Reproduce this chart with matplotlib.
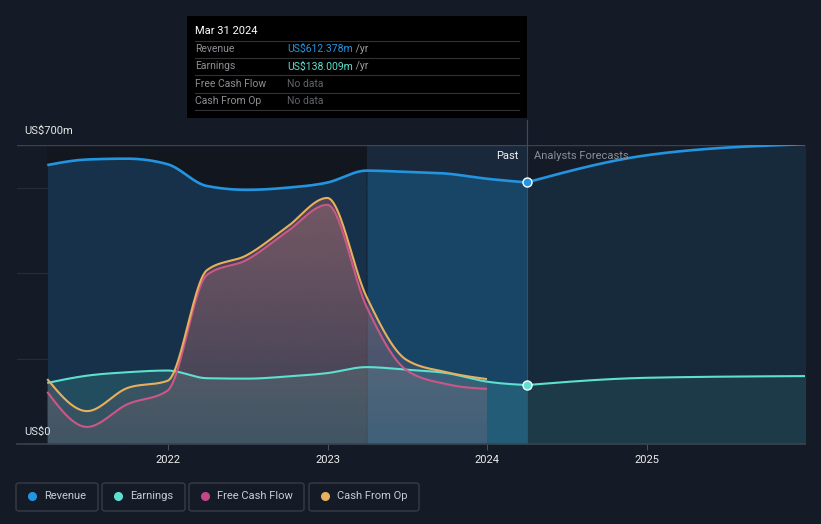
import numpy as np
import pandas as pd
import matplotlib
matplotlib.use("Agg")
import matplotlib.pyplot as plt
from matplotlib.patches import Rectangle, FancyBboxPatch
from matplotlib.lines import Line2D

plt.rcParams['font.family'] = ['Roboto', 'DejaVu Sans']

# ---------------- data ----------------
past_dates = ["2021-03-31", "2021-06-30", "2021-09-30", "2021-12-31", "2022-03-31", "2022-06-30",
              "2022-09-30", "2022-12-31", "2023-03-31", "2023-06-30", "2023-09-30", "2023-12-31",
              "2024-03-31"]
revenue_past = [653, 666, 668, 655, 604, 595, 600, 612, 640, 637, 633, 621, 612.378]
earnings_past = [143, 160, 168, 172, 154, 153, 158, 166, 180, 174, 166, 146, 138.009]

cash_dates = past_dates[:-1]
fcf = [122, 40, 93, 125, 396, 431, 497, 560, 321, 173, 140, 129]
cfo = [152, 77, 131, 148, 407, 442, 508, 576, 344, 197, 168, 152]

fc_dates = ["2024-03-31", "2024-12-31", "2025-12-31"]
revenue_fc = [612.378, 676, 702]
earnings_fc = [138.009, 155, 159]

band_start = "2023-03-31"
now_date = "2024-03-31"
xtick_labels = ["2022", "2023", "2024", "2025"]

C_REV = '#2394df'
C_EARN = '#5ee0cf'
C_FCF = '#cc5687'
C_CFO = '#e8b05c'
BG = '#151b26'

W, H = 821, 524


def dyear(s):
    t = pd.Timestamp(s)
    days = 366 if t.is_leap_year else 365
    return t.year + (t.dayofyear - 1) / days


def monotone(x, y, n=500):
    x = np.asarray(x, float); y = np.asarray(y, float)
    h = np.diff(x); d = np.diff(y) / h
    m = np.zeros_like(y)
    for i in range(1, len(x) - 1):
        s0, s1, h0, h1 = d[i - 1], d[i], h[i - 1], h[i]
        p = (s0 * h1 + s1 * h0) / (h0 + h1)
        m[i] = (np.sign(s0) + np.sign(s1)) * min(abs(s0), abs(s1), 0.5 * abs(p))
    if len(x) > 2:
        m[0] = (3 * d[0] - m[1]) / 2
        m[-1] = (3 * d[-1] - m[-2]) / 2
    else:
        m[0] = m[-1] = d[0]
    xs = np.linspace(x[0], x[-1], n)
    idx = np.clip(np.searchsorted(x, xs) - 1, 0, len(x) - 2)
    hh = h[idx]
    t = (xs - x[idx]) / hh
    h00 = 2 * t**3 - 3 * t**2 + 1
    h10 = t**3 - 2 * t**2 + t
    h01 = -2 * t**3 + 3 * t**2
    h11 = t**3 - t**2
    ys = h00 * y[idx] + h10 * hh * m[idx] + h01 * y[idx + 1] + h11 * hh * m[idx + 1]
    return xs, ys


def fx(px):
    return px / W


def fy(py):
    return 1 - py / H


xp = [dyear(d) for d in past_dates]
xc = [dyear(d) for d in cash_dates]
xf = [dyear(d) for d in fc_dates]
x_now = dyear(now_date)
x_band = dyear(band_start)

fig = plt.figure(figsize=(W / 100, H / 100), dpi=100, facecolor=BG)
ax = fig.add_axes([fx(17), fy(444), fx(805) - fx(17), fy(145) - fy(444)])
ax.set_facecolor(BG)
x0 = 2022 + (17 - 168) / 159.7
x1 = 2022 + (805 - 168) / 159.7
ax.set_xlim(x0, x1)
ax.set_ylim(0, 700)
for s in ax.spines.values():
    s.set_visible(False)

# regions
ax.axvspan(xp[0], x_band, color='#11161f', zorder=0, lw=0)
ax.axvspan(x_band, x_now, color='#172230', zorder=0, lw=0)

# gridlines
for v in [200, 400, 600]:
    ax.axhline(v, color='#262d39', lw=0.8, zorder=1)
ax.axhline(700, color='#3b424d', lw=1.0, zorder=1)
ax.axhline(0, color='#3b424d', lw=1.2, zorder=6, clip_on=False)

# smooth curves
rx, ry = monotone(xp, revenue_past)
ex, ey = monotone(xp, earnings_past)
fcx, fcy = monotone(xc, fcf)
cox, coy = monotone(xc, cfo)
rfx, rfy = monotone(xf, revenue_fc)
efx, efy = monotone(xf, earnings_fc)

# revenue fills
ax.fill_between(rx, 0, ry, where=rx <= x_band + 1e-9, color='#163149', lw=0, zorder=2)
ax.fill_between(rx, 0, ry, where=rx >= x_band - 1e-3, color='#163f5e', lw=0, zorder=2)
ax.fill_between(rfx, 0, rfy, color='#172a3c', lw=0, zorder=2)

# earnings fills
ax.fill_between(ex, 0, ey, color=C_EARN, alpha=0.16, lw=0, zorder=3)
ax.fill_between(efx, 0, efy, color=C_EARN, alpha=0.09, lw=0, zorder=3)


# cash gradient fills
def grad_fill(xs, ys, z):
    poly = ax.fill_between(xs, 0, ys, color='none', lw=0)
    ny = 256
    a = np.linspace(0.10, 0.33, ny)
    img = np.zeros((ny, 2, 4))
    img[..., 0] = 200 / 255
    img[..., 1] = 122 / 255
    img[..., 2] = 125 / 255
    img[..., 3] = a[:, None]
    im = ax.imshow(img, extent=[xs[0], xs[-1], 0, 600], origin='lower', aspect='auto',
                   zorder=z, interpolation='bilinear')
    im.set_clip_path(poly.get_paths()[0], transform=ax.transData)


grad_fill(cox, coy, 4)
grad_fill(fcx, fcy, 4)
ax.set_xlim(x0, x1)
ax.set_ylim(0, 700)

# band light overlay
ax.axvspan(x_band, x_now, ymin=0, ymax=1, color='#3a92d8', alpha=0.07, zorder=4.5, lw=0)

# lines
ax.plot(rx, ry, color=C_REV, lw=1.9, zorder=7, solid_capstyle='butt')
ax.plot(rfx, rfy, color=C_REV, lw=1.9, zorder=7, solid_capstyle='butt')
ax.plot(ex, ey, color=C_EARN, lw=1.5, zorder=6, solid_capstyle='butt')
ax.plot(efx, efy, color=C_EARN, lw=1.5, zorder=6, solid_capstyle='butt')
ax.plot(fcx, fcy, color=C_FCF, lw=1.5, zorder=6, solid_capstyle='butt')
ax.plot(cox, coy, color=C_CFO, lw=1.5, zorder=6, solid_capstyle='butt')

# now line and markers
ax.axvline(x_now, ymin=0, ymax=(444 - 120) / (444 - 145), color='#24557d', lw=0.8,
           zorder=5, clip_on=False)
ax.plot([x_now], [revenue_past[-1]], 'o', ms=6.5, mfc=C_REV, mec='white', mew=1.0, zorder=9)
ax.plot([x_now], [earnings_past[-1]], 'o', ms=6.5, mfc=C_EARN, mec='white', mew=1.0, zorder=9)

# ticks
ax.set_xticks([dyear(l + "-01-01") for l in xtick_labels])
ax.set_xticklabels(xtick_labels)
ax.tick_params(axis='x', colors='#4a505a', length=4, width=0.8, labelcolor='#eeeeee',
               labelsize=8, pad=4)
ax.set_yticks([])

# y labels
fig.text(fx(24), fy(131), "US$700m", color='#e6e6e6', fontsize=8, va='center', ha='left')
ax.text(x0 + (24 - 17) / 159.7, 0 + (444 - 432) * 700 / 299, "US$0", color='#e6e6e6',
        fontsize=8, va='center', ha='left', zorder=10)

# past/forecast labels
fig.text(fx(518), fy(156), "Past", color='#f2f2f2', fontsize=8, va='center', ha='right')
fig.text(fx(534), fy(156), "Analysts Forecasts", color='#8a9099', fontsize=8, va='center', ha='left')

# tooltip
fig.patches.append(Rectangle((fx(187), fy(118)), fx(527) - fx(187), fy(16) - fy(118),
                             transform=fig.transFigure, facecolor='#000000', edgecolor='none',
                             zorder=20))
fig.text(fx(195), fy(31), "Mar 31 2024", color='#ffffff', fontsize=8, va='center', ha='left',
         zorder=21)
for yy in [41, 58, 75, 93, 110]:
    fig.add_artist(Line2D([fx(195), fx(519)], [fy(yy), fy(yy)], color='#333333', lw=0.8,
                          transform=fig.transFigure, zorder=21))
rows = [("Revenue", "US$612.378m", C_REV, " /yr"),
        ("Earnings", "US$138.009m", C_EARN, " /yr"),
        ("Free Cash Flow", "No data", '#5f6369', ""),
        ("Cash From Op", "No data", '#5f6369', "")]
for i, (lab, val, col, suf) in enumerate(rows):
    yy = fy(49 + i * 17.4)
    fig.text(fx(195), yy, lab, color='#8c8f94', fontsize=7.5, va='center', ha='left', zorder=21)
    t = fig.text(fx(287), yy, val, color=col, fontsize=7.5, va='center', ha='left', zorder=21)
    if suf:
        fig.canvas.draw()
        bb = t.get_window_extent()
        fig.text(bb.x1 / W, yy, suf, color='#9a9da2', fontsize=7.5, va='center', ha='left',
                 zorder=21)

# legend
legend_items = [("Revenue", C_REV, 16, 98), ("Earnings", C_EARN, 102, 185),
                ("Free Cash Flow", '#c2478a', 189, 304), ("Cash From Op", C_CFO, 309, 419)]
for lab, col, xa, xb in legend_items:
    fig.patches.append(FancyBboxPatch((fx(xa), fy(511)), fx(xb) - fx(xa), fy(483) - fy(511),
                                      boxstyle="round,pad=0,rounding_size=0.004",
                                      transform=fig.transFigure, facecolor='none',
                                      edgecolor='#3a3f49', lw=0.9))
    fig.add_artist(Line2D([fx(xa + 16)], [fy(496)], marker='o', ms=5.5, color=col, lw=0,
                          transform=fig.transFigure))
    fig.text(fx(xa + 28), fy(496), lab, color='#c9ccd1', fontsize=8, va='center', ha='left')

fig.savefig("out.png", dpi=100, facecolor=BG)
